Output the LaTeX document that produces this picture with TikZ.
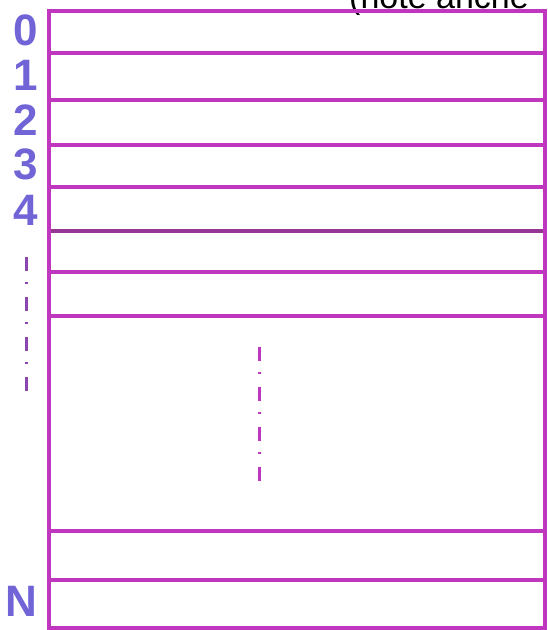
\documentclass[tikz,border=0pt]{standalone}
\usepackage{fontspec}
\setmainfont{Liberation Sans}
\usetikzlibrary{positioning}
\definecolor{cL}{RGB}{190,55,190}
\definecolor{cD}{RGB}{150,55,150}
\definecolor{cT}{RGB}{112,100,214}
\definecolor{cP}{RGB}{140,70,175}

\begin{document}
\begin{tikzpicture}[x=1pt, y=-1pt,
    rule/.style={draw=cL, line width=3.2pt},
    idx/.style={text=cT, font=\bfseries\fontsize{44}{44}\selectfont, inner sep=0pt},
    dashdots/.style={line width=3pt, dash pattern=on 14pt off 11pt on 2pt off 13pt}]
    \useasboundingbox (0,0) rectangle (547,630);

    % note text, cut off by the top edge
    \node[anchor=base west, font=\fontsize{34}{34}\selectfont, inner sep=0pt] (note) at (349,8) {(note anche};

    % table: outer frame and row lines
    \foreach \y in {53,100,145,187,272,316,531,580}
        \draw[rule] (49,\y) -- (545,\y);
    \draw[rule, draw=cD, line width=4pt] (49,231) -- (545,231);
    \draw[rule] (49,11) rectangle (545,628);

    % row indices
    \node[idx] (i0) at (26,30)  {0};
    \node[idx] (i1) at (26,75)  {1};
    \node[idx] (i2) at (26,120) {2};
    \node[idx] (i3) at (26,164) {3};
    \node[idx] (i4) at (26,210) {4};
    \node[idx] (iN) at (21,601) {N};

    % omitted rows
    \draw[dashdots, draw=cP] (26,257) -- (26,392);
    \draw[dashdots, draw=cL] (259,347) -- (259,482);
\end{tikzpicture}
\end{document}
